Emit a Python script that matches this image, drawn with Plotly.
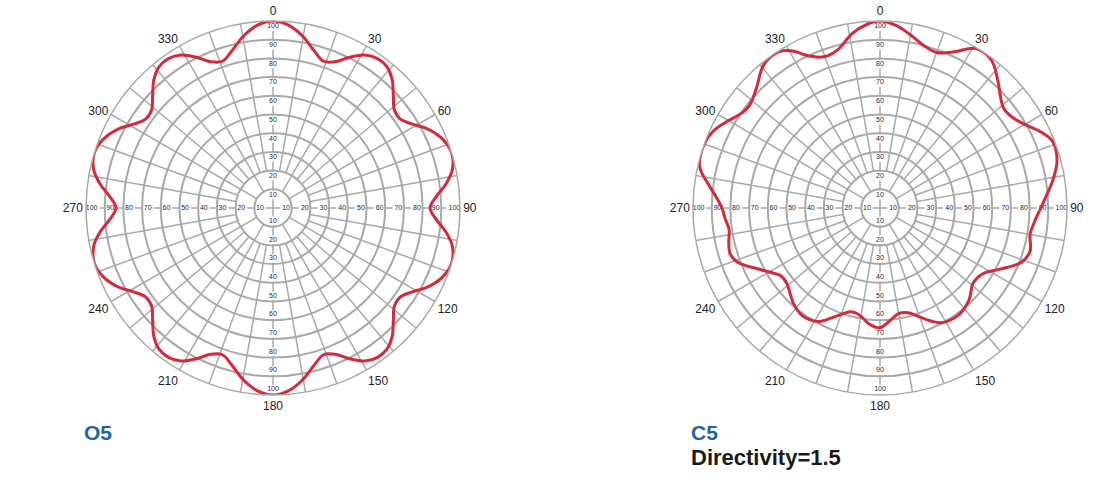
import plotly.graph_objects as go

# ---------------- data ----------------
O5_THETA = [0, 5, 10, 15, 19, 23, 27, 31, 35, 39, 43, 47, 51, 55, 59, 63, 68, 73, 78, 82, 86, 90,
            94, 98, 102, 107, 112, 117, 121, 125, 129, 133, 137, 141, 145, 149, 153, 157, 161, 165, 170, 175, 180,
            185, 190, 195, 199, 203, 207, 211, 215, 219, 223, 227, 231, 235, 239, 243, 248, 253, 258, 262, 266, 270,
            274, 278, 282, 287, 292, 297, 301, 305, 309, 313, 317, 321, 325, 329, 333, 337, 341, 345, 350, 355, 360]
O5_R = [100, 98, 93, 86.5, 83, 85, 90.5, 95.5, 97.5, 97, 93.5, 88, 83.5, 83, 87, 93, 98, 100, 98, 93.5, 87.5, 84,
        87.5, 93.5, 98, 100, 98, 93, 87, 83, 83.5, 88, 93.5, 97, 97.5, 95.5, 90.5, 85, 83, 86.5, 93, 98, 100,
        98, 93, 86.5, 83, 85, 90.5, 95.5, 97.5, 97, 93.5, 88, 83.5, 83, 87, 93, 98, 100, 98, 93.5, 87.5, 84,
        87.5, 93.5, 98, 100, 98, 93, 87, 83, 83.5, 88, 93.5, 97, 97.5, 95.5, 90.5, 85, 83, 86.5, 93, 98, 100]

C5_THETA = [0, 5, 10, 15, 20, 25, 31, 37, 43, 47, 51, 56, 61, 65, 69, 75, 81, 86, 90,
            95, 100, 106, 111, 117, 123, 129, 136, 144, 152, 156, 160, 165, 170, 175, 180,
            185, 189, 192, 196, 200, 204, 208, 212, 216, 222, 227, 231, 236, 240, 243, 249, 253, 257, 262, 266, 270,
            274, 277, 283, 290, 295, 300, 304, 308, 314, 321, 327, 331, 334, 338, 341, 345, 351, 356, 360]
C5_R = [100, 98, 94, 90, 88.5, 92, 99.5, 99, 92.5, 88, 85, 86, 90.5, 95.5, 99, 98, 93.5, 89, 86,
        83, 81.5, 83.5, 81, 72, 65, 64, 68.5, 71, 69.5, 66, 62, 58, 57.3, 60.5, 64,
        62.5, 59.5, 57.8, 57.7, 60.5, 64.5, 68.7, 70.5, 71, 69, 66, 64.1, 64.4, 68.5, 72.2, 81.3, 83.8, 83, 81.5, 83, 84.5,
        88, 91.5, 99, 100, 98, 93.5, 90, 88.7, 92, 98.7, 99.5, 96, 91, 87, 86, 87.5, 94.5, 98.5, 100]

RING_VALUES = [10, 20, 30, 40, 50, 60, 70, 80, 90, 100]
ANGLE_TICKS = [0, 30, 60, 90, 120, 150, 180, 210, 240, 270, 300, 330]
AXIS_ANGLES = [0, 90, 180, 270]
SPOKE_ANGLES = [a for a in range(10, 360, 10) if a % 90 != 0]

TITLES = ["O5", "C5"]
SUBTITLE = "Directivity=1.5"

# ---------------- style ----------------
GRID = "#a9a9a9"
RED = "#d42a3c"
BLUE = "#1f63ad"
LABEL_COL = "#1c2436"

fig = go.Figure()

def add_grid(subplot):
    rr, tt = [], []
    for a in SPOKE_ANGLES:
        r0 = 10 if a % 30 == 0 else 20
        rr += [r0, 100, None]
        tt += [a, a, None]
    fig.add_trace(go.Scatterpolar(r=rr, theta=tt, mode="lines",
                                  line=dict(color=GRID, width=1.5),
                                  hoverinfo="skip", showlegend=False, subplot=subplot))
    rr, tt = [], []
    for a in AXIS_ANGLES:
        horiz = a in (90, 270)
        prev = 0
        for v in RING_VALUES:
            c = v - 3
            g = (4.2 if v == 100 else 3.2) if horiz else 2.3
            rr += [prev, c - g, None]
            tt += [a, a, None]
            prev = c + g
        rr += [prev, 100, None]
        tt += [a, a, None]
    fig.add_trace(go.Scatterpolar(r=rr, theta=tt, mode="lines",
                                  line=dict(color=GRID, width=1.5),
                                  hoverinfo="skip", showlegend=False, subplot=subplot))
    lr, lt, ltx = [], [], []
    for a in AXIS_ANGLES:
        for v in RING_VALUES:
            lr.append(v - 3)
            lt.append(a)
            ltx.append(str(v))
    fig.add_trace(go.Scatterpolar(r=lr, theta=lt, mode="text", text=ltx,
                                  textfont=dict(size=7, color=LABEL_COL, family="Arial"),
                                  hoverinfo="skip", showlegend=False, subplot=subplot))

def add_curve(subplot, theta, r):
    fig.add_trace(go.Scatterpolar(r=r, theta=theta, mode="lines",
                                  line=dict(color=RED, width=3, shape="spline", smoothing=1.0),
                                  hoverinfo="skip", showlegend=False, subplot=subplot))

add_grid("polar")
add_curve("polar", O5_THETA, O5_R)
add_grid("polar2")
add_curve("polar2", C5_THETA, C5_R)

W, H = 1115, 498
R_PX = 187
def domain(cx, cy):
    return dict(x=[(cx - R_PX) / W, (cx + R_PX) / W],
                y=[1 - (cy + R_PX) / H, 1 - (cy - R_PX) / H])

def polar_cfg(cx, cy):
    return dict(
        domain=domain(cx, cy),
        bgcolor="white",
        radialaxis=dict(range=[0, 100], tickvals=RING_VALUES, showticklabels=False,
                        ticks="", showline=False, gridcolor=GRID, gridwidth=1.5),
        angularaxis=dict(rotation=90, direction="clockwise", tickvals=ANGLE_TICKS,
                         ticktext=[str(a) for a in ANGLE_TICKS], showgrid=False,
                         ticks="", linecolor=GRID, linewidth=1.5,
                         tickfont=dict(size=12, color="#222222", family="Arial")),
    )

def px(x):
    return x / W

def py(y):
    return 1 - y / H

fig.update_layout(
    width=W, height=H,
    margin=dict(l=0, r=0, t=0, b=0),
    paper_bgcolor="white",
    hovermode=False,
    polar=polar_cfg(273, 208),
    polar2=polar_cfg(880, 208),
    annotations=[
        dict(text="<b>%s</b>" % TITLES[0], x=px(82), y=py(432), xref="paper", yref="paper",
             xanchor="left", yanchor="middle", showarrow=False,
             font=dict(size=21, color=BLUE, family="Arial")),
        dict(text="<b>%s</b>" % TITLES[1], x=px(689), y=py(432), xref="paper", yref="paper",
             xanchor="left", yanchor="middle", showarrow=False,
             font=dict(size=21, color=BLUE, family="Arial")),
        dict(text="<b>%s</b>" % SUBTITLE, x=px(689), y=py(457), xref="paper", yref="paper",
             xanchor="left", yanchor="middle", showarrow=False,
             font=dict(size=22, color="#1a1a1a", family="Arial")),
    ],
)

fig.write_html("out.html", config={"displayModeBar": False},
               post_script="document.body.style.margin='0px';")
